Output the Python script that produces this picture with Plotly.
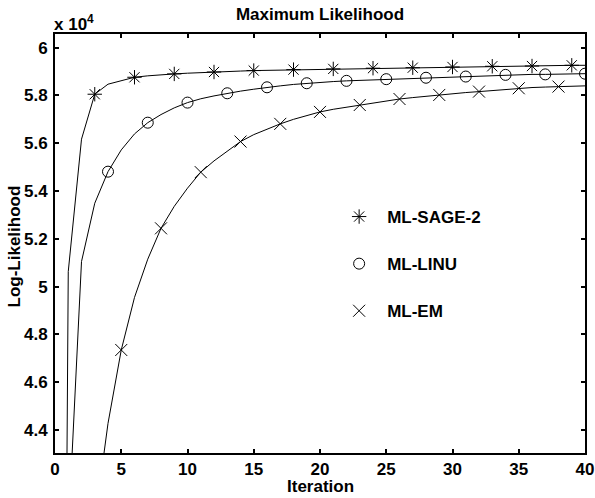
import plotly.graph_objects as go

# ---- data (log-likelihood in units of 1e4) ----
iterations = list(range(41))

ml_sage2 = [-3.0, 5.063, 5.617, 5.805, 5.847, 5.862, 5.876, 5.882, 5.887, 5.890,
            5.893, 5.896, 5.898, 5.900, 5.902, 5.904, 5.905, 5.907, 5.908, 5.909,
            5.910, 5.911, 5.912, 5.913, 5.914, 5.915, 5.915, 5.916, 5.917, 5.918,
            5.919, 5.920, 5.921, 5.922, 5.922, 5.923, 5.923, 5.924, 5.925, 5.926,
            5.926]

ml_linu = [-3.0, 3.970, 5.105, 5.349, 5.481, 5.572, 5.639, 5.686, 5.720, 5.748,
           5.770, 5.786, 5.798, 5.809, 5.818, 5.826, 5.834, 5.840, 5.846, 5.851,
           5.855, 5.858, 5.861, 5.863, 5.866, 5.868, 5.870, 5.872, 5.874, 5.876,
           5.877, 5.879, 5.881, 5.883, 5.886, 5.887, 5.888, 5.888, 5.889, 5.890,
           5.891]

ml_em = [-3.0, 1.800, 3.100, 4.015, 4.428, 4.735, 4.955, 5.115, 5.244, 5.336,
         5.412, 5.479, 5.526, 5.568, 5.607, 5.636, 5.660, 5.681, 5.700, 5.716,
         5.731, 5.742, 5.751, 5.760, 5.769, 5.777, 5.785, 5.791, 5.797, 5.802,
         5.807, 5.812, 5.816, 5.821, 5.826, 5.830, 5.833, 5.835, 5.837, 5.839,
         5.840]

series_names = ["ML-SAGE-2", "ML-LINU", "ML-EM"]
marker_start = [3, 4, 5]
marker_step = 3

x_ticks = [0, 5, 10, 15, 20, 25, 30, 35, 40]
y_ticks = [4.4, 4.6, 4.8, 5.0, 5.2, 5.4, 5.6, 5.8, 6.0]
y_ticklabels = ["4.4", "4.6", "4.8", "5", "5.2", "5.4", "5.6", "5.8", "6"]

FONT = "Liberation Sans, Arial, Helvetica, sans-serif"
FS = 17
symbols = ["asterisk-open", "circle-open", "x-thin-open"]
sizes = [12, 11, 12]

def bold(size=FS):
    return dict(family=FONT, size=size, color="black", weight="bold")

fig = go.Figure()
all_series = [ml_sage2, ml_linu, ml_em]
for name, vals, start, sym, sz in zip(series_names, all_series, marker_start, symbols, sizes):
    fig.add_trace(go.Scatter(
        x=iterations, y=vals, mode="lines",
        line=dict(color="black", width=1),
        showlegend=False, hoverinfo="skip", cliponaxis=True,
    ))
    fig.add_trace(go.Scatter(
        x=iterations[start::marker_step], y=vals[start::marker_step],
        mode="markers", name=name, legendgroup=name,
        marker=dict(symbol=sym, size=sz, color="black",
                    line=dict(color="black", width=1)),
        cliponaxis=True,
    ))

axis_common = dict(
    showline=True, linecolor="black", linewidth=2, mirror="ticks",
    ticks="inside", ticklen=4, tickwidth=2, tickcolor="black",
    showgrid=False, zeroline=False, automargin=False,
    tickfont=bold(),
)

fig.update_layout(
    width=595, height=498,
    margin=dict(l=55, r=10, t=34, b=45),
    paper_bgcolor="white", plot_bgcolor="white",
    title=dict(text="Maximum Likelihood", x=0.5, xref="paper", xanchor="center",
               y=1 - 14 / 498, yref="container", yanchor="middle",
               font=bold()),
    xaxis=dict(range=[0, 40], tickvals=x_ticks, **axis_common),
    yaxis=dict(range=[4.304, 6.057], tickvals=y_ticks, ticktext=y_ticklabels,
               ticklabelstandoff=2, **axis_common),
    legend=dict(x=0.521, y=0.6062, xanchor="left", yanchor="top",
                bgcolor="rgba(0,0,0,0)", borderwidth=0,
                traceorder="grouped", tracegroupgap=22, itemwidth=46,
                font=bold()),
    annotations=[
        dict(text="x 10<sup>4</sup>", xref="paper", yref="paper",
             x=0, y=1, xanchor="left", yanchor="bottom", showarrow=False,
             xshift=-3, yshift=-2, font=bold()),
        dict(text="Iteration", xref="paper", yref="paper",
             x=0.5, y=0, xanchor="center", yanchor="middle", showarrow=False,
             yshift=-33, font=bold()),
        dict(text="Log-Likelihood", xref="paper", yref="paper", textangle=-90,
             x=0, y=0.5, xanchor="center", yanchor="middle", showarrow=False,
             xshift=-41, yshift=-3, font=bold()),
    ],
)

fig.write_html(
    "out.html",
    config={"displayModeBar": False},
    post_script="document.body.style.margin='0px';document.body.style.overflow='hidden';",
)
